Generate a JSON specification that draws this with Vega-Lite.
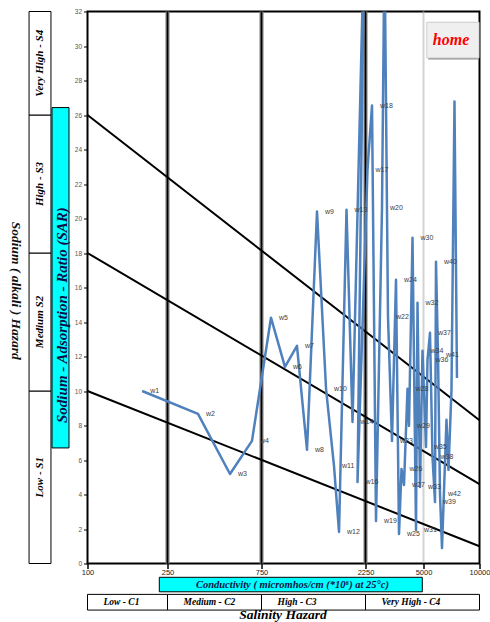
{
  "$schema": "https://vega.github.io/schema/vega-lite/v6.json",
  "width": 392,
  "height": 552,
  "autosize": {"type": "none"},
  "padding": {"left": 87.5, "top": 11.5, "right": 10.5, "bottom": 58.5},
  "background": "white",
  "config": {
    "view": {"stroke": "#000", "strokeWidth": 2},
    "axisY": {"labelOverlap": false, "tickCount": 17}
  },
  "datasets": {
    "wells": [
      {"n": 1, "label": "w1", "ec": 187, "sar": 10.0},
      {"n": 2, "label": "w2", "ec": 357, "sar": 8.67},
      {"n": 3, "label": "w3", "ec": 519, "sar": 5.19},
      {"n": 4, "label": "w4", "ec": 671, "sar": 7.11},
      {"n": 5, "label": "w5", "ec": 829, "sar": 14.25},
      {"n": 6, "label": "w6", "ec": 961, "sar": 11.4},
      {"n": 7, "label": "w7", "ec": 1091, "sar": 12.62},
      {"n": 8, "label": "w8", "ec": 1213, "sar": 6.59},
      {"n": 9, "label": "w9", "ec": 1348, "sar": 20.4},
      {"n": 10, "label": "w10", "ec": 1483, "sar": 10.13},
      {"n": 11, "label": "w11", "ec": 1613, "sar": 5.66},
      {"n": 12, "label": "w12", "ec": 1701, "sar": 1.83},
      {"n": 13, "label": "w13", "ec": 1841, "sar": 20.51},
      {"n": 14, "label": "w14", "ec": 1962, "sar": 8.21},
      {"n": 15, "label": "w15", "ec": 2214, "sar": 36},
      {"n": 16, "label": "w16", "ec": 2068, "sar": 4.73},
      {"n": 17, "label": "w17", "ec": 2313, "sar": 22.83},
      {"n": 18, "label": "w18", "ec": 2461, "sar": 26.55},
      {"n": 19, "label": "w19", "ec": 2600, "sar": 2.47},
      {"n": 20, "label": "w20", "ec": 2824, "sar": 20.63},
      {"n": 21, "label": "w21", "ec": 2923, "sar": 36},
      {"n": 22, "label": "w22", "ec": 3067, "sar": 14.3},
      {"n": 23, "label": "w23", "ec": 3240, "sar": 7.11},
      {"n": 24, "label": "w24", "ec": 3424, "sar": 16.45},
      {"n": 25, "label": "w25", "ec": 3569, "sar": 1.71},
      {"n": 26, "label": "w26", "ec": 3694, "sar": 5.48},
      {"n": 27, "label": "w27", "ec": 3823, "sar": 4.55},
      {"n": 28, "label": "w28", "ec": 4012, "sar": 10.13},
      {"n": 29, "label": "w29", "ec": 4096, "sar": 7.98},
      {"n": 30, "label": "w30", "ec": 4298, "sar": 18.89},
      {"n": 31, "label": "w31", "ec": 4510, "sar": 1.94},
      {"n": 32, "label": "w32", "ec": 4604, "sar": 15.12},
      {"n": 33, "label": "w33", "ec": 4765, "sar": 4.44},
      {"n": 34, "label": "w34", "ec": 4931, "sar": 12.33},
      {"n": 35, "label": "w35", "ec": 5157, "sar": 6.76},
      {"n": 36, "label": "w36", "ec": 5254, "sar": 11.81},
      {"n": 37, "label": "w37", "ec": 5419, "sar": 13.37},
      {"n": 38, "label": "w38", "ec": 5589, "sar": 6.18},
      {"n": 39, "label": "w39", "ec": 5765, "sar": 3.57},
      {"n": 40, "label": "w40", "ec": 5836, "sar": 17.49},
      {"n": 41, "label": "w41", "ec": 5983, "sar": 12.1},
      {"n": 42, "label": "w42", "ec": 6133, "sar": 4.03},
      {"n": 43, "label": "", "ec": 6286, "sar": 0.9},
      {"n": 44, "label": "", "ec": 6645, "sar": 8.33},
      {"n": 45, "label": "", "ec": 6812, "sar": 5.43},
      {"n": 46, "label": "", "ec": 7070, "sar": 10.07},
      {"n": 47, "label": "", "ec": 7337, "sar": 26.78},
      {"n": 48, "label": "", "ec": 7568, "sar": 10.76}
    ],
    "boundaries": [
      {"b": "S1/S2", "ec": 100, "sar": 10},
      {"b": "S1/S2", "ec": 10000, "sar": 1},
      {"b": "S2/S3", "ec": 100, "sar": 18},
      {"b": "S2/S3", "ec": 10000, "sar": 4.6},
      {"b": "S3/S4", "ec": 100, "sar": 26},
      {"b": "S3/S4", "ec": 10000, "sar": 8.3}
    ],
    "salinity": [
      {"cls": "Low - C1", "lo": 100, "hi": 250},
      {"cls": "Medium - C2", "lo": 250, "hi": 750},
      {"cls": "High - C3", "lo": 750, "hi": 2250},
      {"cls": "Very High - C4", "lo": 2250, "hi": 10000}
    ],
    "sodium": [
      {"cls": "Low - S1", "lo": 0, "hi": 10},
      {"cls": "Medium S2", "lo": 10, "hi": 18},
      {"cls": "High - S3", "lo": 18, "hi": 26},
      {"cls": "Very High - S4", "lo": 26, "hi": 32}
    ]
  },
  "layer": [
    {
      "data": {"name": "boundaries"},
      "mark": {"type": "line", "stroke": "#000", "strokeWidth": 2, "opacity": 0},
      "encoding": {
        "x": {
          "field": "ec", "type": "quantitative",
          "scale": {"type": "log", "domain": [100, 250, 750, 2250, 5000, 10000], "range": [0, 80, 174, 278, 336, 392], "nice": false},
          "axis": {"values": [100, 250, 750, 2250, 5000, 10000], "format": "d", "title": null, "grid": false, "domain": false, "tickSize": 5, "tickWidth": 1.5, "tickColor": "#000", "labelFontSize": 7.5, "labelColor": "#222", "labelPadding": 0, "labelFlush": false, "labelOverlap": false, "labelFont": "Liberation Sans"}
        },
        "y": {
          "field": "sar", "type": "quantitative",
          "scale": {"domain": [0, 32], "nice": false, "zero": false},
          "axis": {"values": [0, 2, 4, 6, 8, 10, 12, 14, 16, 18, 20, 22, 24, 26, 28, 30, 32], "title": null, "grid": false, "domain": false, "tickSize": 4, "tickColor": "#000", "labelFontSize": 6.5, "labelColor": "#555", "labelPadding": 2, "labelOverlap": false, "labelFont": "Liberation Sans"}
        },
        "detail": {"field": "b"}
      }
    },
    {
      "data": {"values": [{"ec": 5000}]},
      "mark": {"type": "rule", "stroke": "#a8a8a8", "strokeWidth": 2, "strokeDash": [1, 1]},
      "encoding": {"x": {"field": "ec", "type": "quantitative"}}
    },
    {
      "data": {"values": [{"ec": 250}, {"ec": 750}, {"ec": 2250}]},
      "mark": {"type": "rule", "stroke": "#7a7a7a", "strokeWidth": 4},
      "encoding": {"x": {"field": "ec", "type": "quantitative"}}
    },
    {
      "data": {"values": [{"ec": 250}, {"ec": 750}, {"ec": 2250}]},
      "mark": {"type": "rule", "stroke": "#000", "strokeWidth": 1.5},
      "encoding": {"x": {"field": "ec", "type": "quantitative"}}
    },
    {
      "data": {"name": "boundaries"},
      "mark": {"type": "line", "stroke": "#000", "strokeWidth": 2},
      "encoding": {
        "x": {"field": "ec", "type": "quantitative"},
        "y": {"field": "sar", "type": "quantitative"},
        "detail": {"field": "b"}
      }
    },
    {
      "data": {"name": "wells"},
      "mark": {"type": "line", "stroke": "#4F81BD", "strokeWidth": 2.5, "clip": true, "strokeJoin": "round"},
      "encoding": {
        "x": {"field": "ec", "type": "quantitative"},
        "y": {"field": "sar", "type": "quantitative"},
        "order": {"field": "n"}
      }
    },
    {
      "data": {"name": "wells"},
      "transform": [{"filter": "datum.label != '' && datum.sar <= 32"}],
      "mark": {"type": "text", "align": "left", "baseline": "middle", "dx": 8, "fontSize": 7, "fill": "#404040", "font": "Liberation Sans"},
      "encoding": {
        "x": {"field": "ec", "type": "quantitative"},
        "y": {"field": "sar", "type": "quantitative"},
        "text": {"field": "label"}
      }
    },
    {
      "data": {"values": [{"button": "home"}]},
      "mark": {"type": "rect", "fill": "#8c8c8c", "xOffset": 1.5, "yOffset": 1.5},
      "encoding": {"x": {"datum": 5202}, "x2": {"datum": 9938}, "y": {"datum": 29.31}, "y2": {"datum": 31.38}}
    },
    {
      "data": {"values": [{"button": "home"}]},
      "mark": {"type": "rect", "fill": "#efefef", "stroke": "#d0d0d0", "strokeWidth": 1},
      "encoding": {"x": {"datum": 5202}, "x2": {"datum": 9938}, "y": {"datum": 29.31}, "y2": {"datum": 31.38}}
    },
    {
      "data": {"values": [{"button": "home"}]},
      "mark": {"type": "text", "font": "Liberation Serif", "fontStyle": "italic", "fontWeight": "bold", "fontSize": 16, "fill": "#ff0000", "align": "center", "baseline": "middle"},
      "encoding": {"x": {"datum": 7028}, "y": {"datum": 30.32}, "text": {"field": "button"}}
    },
    {
      "data": {"name": "sodium"},
      "mark": {"type": "rect", "fill": "white", "stroke": "#000", "strokeWidth": 1},
      "encoding": {"x": {"datum": 51.2}, "x2": {"datum": 65.8}, "y": {"field": "lo", "type": "quantitative"}, "y2": {"field": "hi"}}
    },
    {
      "data": {"name": "sodium"},
      "transform": [{"fold": ["lo", "hi"], "as": ["edge", "v"]}],
      "mark": {"type": "text", "angle": 270, "font": "Liberation Serif", "fontStyle": "italic", "fontWeight": "bold", "fontSize": 11, "fill": "#000", "align": "center", "baseline": "middle"},
      "encoding": {"x": {"datum": 58.0}, "y": {"aggregate": "mean", "field": "v", "type": "quantitative"}, "text": {"field": "cls"}}
    },
    {
      "data": {"values": [{"title": "Sodium - Adsorption - Ratio (SAR)"}]},
      "mark": {"type": "rect", "fill": "#00ffff", "stroke": "#000", "strokeWidth": 1},
      "encoding": {"x": {"datum": 66.6}, "x2": {"datum": 80.9}, "y": {"datum": 6.7}, "y2": {"datum": 26.43}}
    },
    {
      "data": {"values": [{"title": "Sodium - Adsorption - Ratio (SAR)"}]},
      "mark": {"type": "text", "angle": 270, "font": "Liberation Serif", "fontStyle": "italic", "fontWeight": "bold", "fontSize": 15, "fill": "#101048", "align": "center", "baseline": "middle"},
      "encoding": {"x": {"datum": 75.1}, "y": {"datum": 14.4}, "text": {"field": "title"}}
    },
    {
      "data": {"values": [{"title": "Sodium ( alkali ) Hazard"}]},
      "mark": {"type": "text", "angle": 90, "font": "Liberation Serif", "fontStyle": "italic", "fontWeight": "bold", "fontSize": 13.5, "fill": "#111", "align": "center", "baseline": "middle"},
      "encoding": {"x": {"datum": 44.1}, "y": {"datum": 15.81}, "text": {"field": "title"}}
    },
    {
      "data": {"values": [{"title": "Conductivity ( micromhos/cm (*10⁶) at 25°c)"}]},
      "mark": {"type": "rect", "fill": "#00ffff", "stroke": "#000", "strokeWidth": 1},
      "encoding": {"x": {"datum": 227.6}, "x2": {"datum": 4918}, "y": {"datum": -0.8}, "y2": {"datum": -1.64}}
    },
    {
      "data": {"values": [{"title": "Conductivity ( micromhos/cm (*10⁶) at 25°c)"}]},
      "mark": {"type": "text", "font": "Liberation Serif", "fontStyle": "italic", "fontWeight": "bold", "fontSize": 10.5, "fill": "#101048", "align": "center", "baseline": "middle"},
      "encoding": {"x": {"datum": 1040}, "y": {"datum": -1.22}, "text": {"field": "title"}}
    },
    {
      "data": {"name": "salinity"},
      "mark": {"type": "rect", "fill": "white", "stroke": "#000", "strokeWidth": 1},
      "encoding": {"x": {"field": "lo", "type": "quantitative"}, "x2": {"field": "hi"}, "y": {"datum": -1.79}, "y2": {"datum": -2.7}}
    },
    {
      "data": {"name": "salinity"},
      "mark": {"type": "text", "font": "Liberation Serif", "fontStyle": "italic", "fontWeight": "bold", "fontSize": 9.5, "fill": "#000", "align": "left", "baseline": "middle", "dx": 16},
      "encoding": {"x": {"field": "lo", "type": "quantitative"}, "y": {"datum": -2.25}, "text": {"field": "cls"}}
    },
    {
      "data": {"values": [{"title": "Salinity  Hazard"}]},
      "mark": {"type": "text", "font": "Liberation Serif", "fontStyle": "italic", "fontWeight": "bold", "fontSize": 13.5, "fill": "#000", "align": "center", "baseline": "middle"},
      "encoding": {"x": {"datum": 941}, "y": {"datum": -3.0}, "text": {"field": "title"}}
    }
  ]
}
